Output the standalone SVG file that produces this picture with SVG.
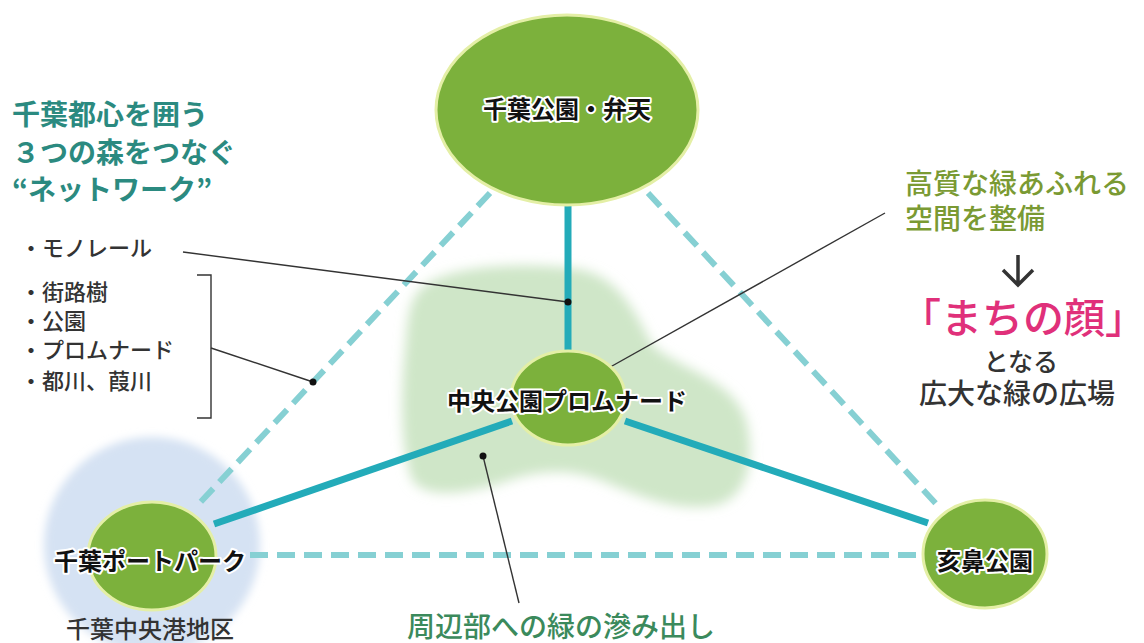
<svg xmlns="http://www.w3.org/2000/svg" width="1144" height="643" viewBox="0 0 1144 643">
<defs>
<filter id="blur" x="-20%" y="-20%" width="140%" height="140%"><feGaussianBlur stdDeviation="6"/></filter>
<filter id="blur2" x="-20%" y="-20%" width="140%" height="140%"><feGaussianBlur stdDeviation="4"/></filter>
</defs>
<style>
text{font-family:"Noto Sans CJK JP","Noto Sans CJK SC",sans-serif}
.node{fill:#7cb13c;stroke:#e4efa6;stroke-width:3}
.lbl{font-size:24px;font-weight:bold;fill:#111;stroke:#fff;stroke-width:4;stroke-linejoin:round;paint-order:stroke;text-anchor:middle}
.solid{stroke:#23abb9;stroke-width:7;fill:none}
.dash{stroke:#86d0d3;stroke-width:6;fill:none;stroke-dasharray:18 9}
.lead{stroke:#333;stroke-width:1.4;fill:none}
.dot{fill:#111}
.teal{font-size:28px;font-weight:bold;fill:#2b8a80}
.list{font-size:22px;fill:#333;font-weight:500}
.olive{font-size:28px;fill:#7a9a33;font-weight:500}
.dark{fill:#333;text-anchor:middle;font-weight:500}
</style>
<rect width="1144" height="643" fill="#fff"/>
<g id="background">
<circle cx="152" cy="545" r="108" fill="#d5e2f3" filter="url(#blur2)"/>
<path d="M420 290 C440 266 520 262 570 268 C612 272 630 300 652 345 C680 370 732 378 746 420 C756 460 748 500 712 506 C672 511 640 496 600 480 C570 469 540 470 510 480 C470 494 426 500 412 480 C398 440 402 380 406 340 C408 310 412 298 420 290 Z" fill="#cfe6c8" filter="url(#blur)"/>
</g>
<g id="connectors">
<line class="dash" x1="490" y1="193" x2="195" y2="508"/>
<line class="dash" x1="648" y1="193" x2="940" y2="508"/>
<line class="dash" x1="250" y1="555" x2="922" y2="555"/>
<line class="solid" x1="568" y1="204" x2="568" y2="352"/>
<line class="solid" x1="512" y1="421" x2="214" y2="524"/>
<line class="solid" x1="625" y1="421" x2="928" y2="523"/>
<polyline class="lead" points="183,252 568,302"/>
<circle class="dot" cx="568" cy="302" r="3.5"/>
<polyline class="lead" points="211,348 313,382"/>
<circle class="dot" cx="313" cy="382" r="3.5"/>
<polyline class="lead" points="885,213 596,375"/>
<circle class="dot" cx="596" cy="375" r="3.5"/>
<polyline class="lead" points="483,456 519,603"/>
<circle class="dot" cx="483" cy="456" r="3.5"/>
<polyline class="lead" points="197,275 211,275 211,418 197,418"/>
</g>
<g id="node-chiba-park">
<ellipse class="node" cx="567" cy="110" rx="131" ry="95"/>
<text class="lbl" x="567" y="118">千葉公園・弁天</text>
</g>
<g id="node-central">
<ellipse class="node" cx="568" cy="398" rx="57" ry="47"/>
<text class="lbl" x="567" y="410">中央公園プロムナード</text>
</g>
<g id="node-port">
<ellipse class="node" cx="152" cy="556" rx="64" ry="54"/>
<text class="lbl" x="150" y="570">千葉ポートパーク</text>
<text class="dark" x="150" y="638" font-size="24">千葉中央港地区</text>
</g>
<g id="node-inohana">
<ellipse class="node" cx="985" cy="554" rx="62" ry="54"/>
<text class="lbl" x="985" y="570">亥鼻公園</text>
</g>
<g id="labels">
<text class="teal" x="12" y="125">千葉都心を囲う</text>
<text class="teal" x="12" y="163">３つの森をつなぐ</text>
<text class="teal" x="12" y="200">“ネットワーク”</text>
<text class="list" x="20" y="256">・モノレール</text>
<text class="list" x="20" y="300">・街路樹</text>
<text class="list" x="20" y="329">・公園</text>
<text class="list" x="20" y="358">・プロムナード</text>
<text class="list" x="20" y="389">・都川、葭川</text>
<text class="olive" x="905" y="194">高質な緑あふれる</text>
<text class="olive" x="905" y="229">空間を整備</text>
<path d="M1018 255 V285 M1003 270 L1018 285 L1033 270" stroke="#333" stroke-width="3.5" fill="none"/>
<text x="900" y="333" font-size="41" fill="#e0307a" font-weight="500">「まちの顔」</text>
<text class="dark" x="1021" y="371" font-size="25">となる</text>
<text class="dark" x="1017" y="404" font-size="28">広大な緑の広場</text>
<text x="561" y="637" font-size="28" fill="#3b8a5c" font-weight="500" text-anchor="middle">周辺部への緑の滲み出し</text>
</g>
</svg>
